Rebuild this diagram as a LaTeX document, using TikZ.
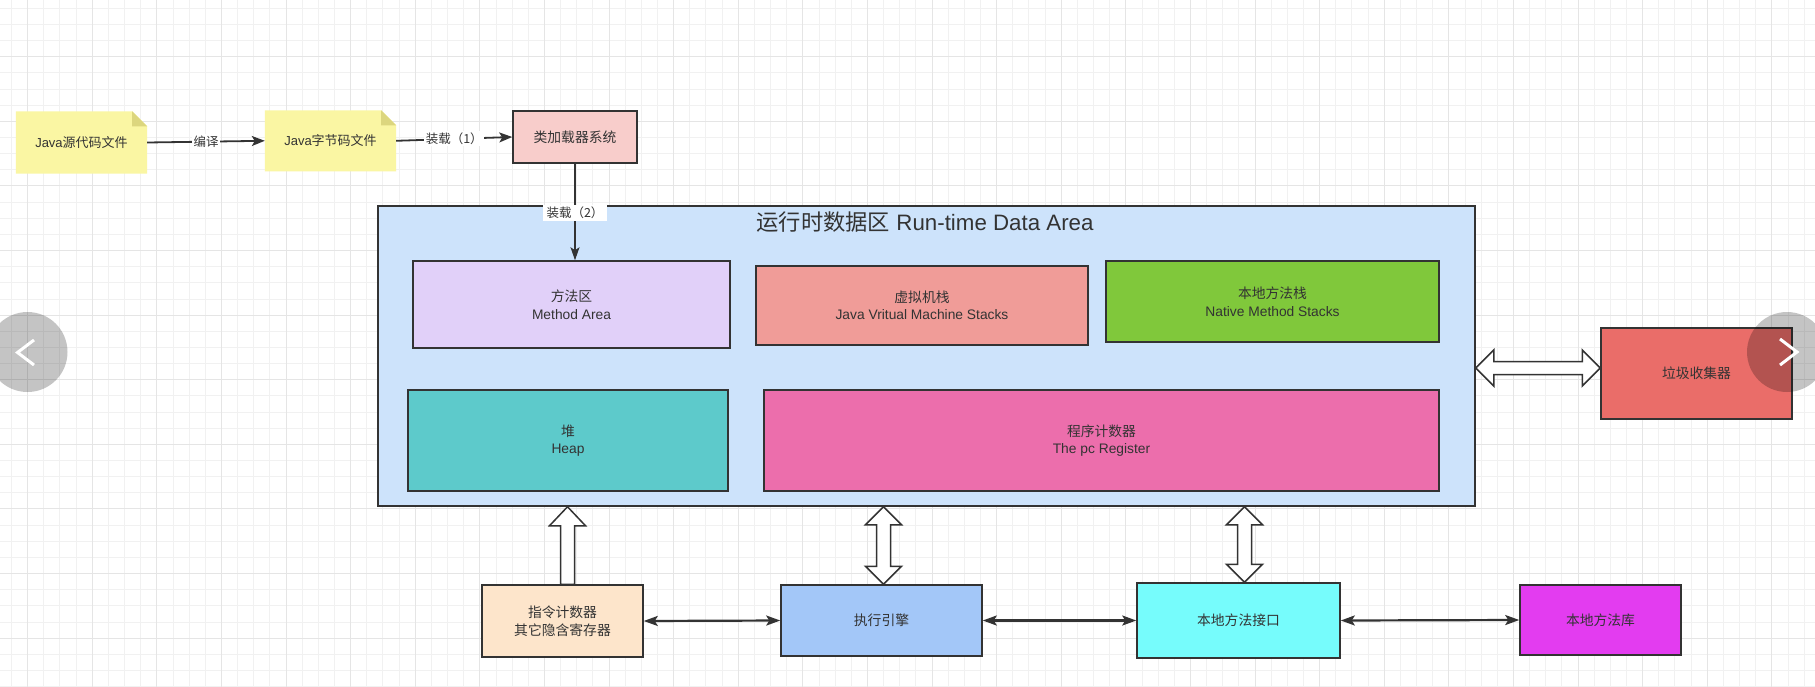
\documentclass[tikz,border=0pt]{standalone}
\usepackage{fontspec}
\setmainfont{Liberation Sans}
\newfontfamily\cjk{Noto Sans CJK SC}
\usetikzlibrary{arrows.meta,calc}
\definecolor{lineC}{HTML}{333333}
\definecolor{textC}{HTML}{333333}
\definecolor{notefill}{HTML}{FAF6A3}
\definecolor{foldfill}{HTML}{DCD67E}
\definecolor{loaderfill}{HTML}{F8CDCB}
\definecolor{rtfill}{HTML}{CDE3FB}
\definecolor{methodfill}{HTML}{E1D0F9}
\definecolor{jvmfill}{HTML}{F09C98}
\definecolor{nativefill}{HTML}{80C83B}
\definecolor{heapfill}{HTML}{5DCACB}
\definecolor{pcfill}{HTML}{EC6EAC}
\definecolor{gcfill}{HTML}{EA6D69}
\definecolor{instrfill}{HTML}{FDE5CB}
\definecolor{execfill}{HTML}{A3C7F8}
\definecolor{nifill}{HTML}{76FCFC}
\definecolor{nlfill}{HTML}{E33CF0}
\definecolor{gridminorC}{HTML}{F1F1F1}
\definecolor{gridmajorC}{HTML}{E5E5E5}
\pgfdeclarelayer{gridlayer}
\pgfdeclarelayer{backlayer}
\pgfsetlayers{gridlayer,backlayer,main}
\begin{document}
\begin{tikzpicture}[x=1pt,y=-1pt,
  boxnode/.style={draw=lineC, line width=1.5pt, text=textC, align=center, inner sep=0pt,
    font=\fontsize{13.8}{17.5}\selectfont},
  notenode/.style={text=textC, align=center, inner sep=0pt, font=\fontsize{13}{15}\selectfont},
  conn/.style={draw=lineC, line width=1.8pt, -{Stealth[length=13pt,width=10pt,inset=3pt]}},
  biconn/.style={draw=lineC, line width=2.2pt, {Stealth[length=14pt,width=10pt,inset=3pt]}-{Stealth[length=14pt,width=10pt,inset=3pt]}},
  thinconn/.style={draw=lineC, line width=1.2pt, -{Stealth[length=13pt,width=9pt,inset=3pt]}},
  lbl/.style={fill=white, text=textC, inner sep=1.5pt, font=\fontsize{12.5}{15}\selectfont},
  hollow/.style={draw=lineC, fill=white, line width=1.5pt, line join=miter},
  gridminor/.style={draw=gridminorC, line width=1pt},
  gridmajor/.style={draw=gridmajorC, line width=1pt}]
\useasboundingbox (0,0) rectangle (1815,686);
\begin{pgfonlayer}{gridlayer}
  \fill[white] (0,0) rectangle (1815,686);
  \begin{scope}[shift={(11.5,8.3)}]
    \draw[gridminor, step=16.15pt] (-40,720) grid (1840,-40);
  \end{scope}
  \begin{scope}[shift={(27.6,56.6)}]
    \draw[gridmajor, step=64.6pt] (-80,720) grid (1840,-80);
  \end{scope}
\end{pgfonlayer}

% top row
\node[notenode, minimum width=131pt, minimum height=62pt] (src) at (81.5,142.5) {Java{\cjk 源代码文件}};
\node[notenode, minimum width=131pt, minimum height=60.5pt] (bc) at (330.5,140.8) {Java{\cjk 字节码文件}};
\node[boxnode, fill=loaderfill, minimum width=124pt, minimum height=52pt] (loader) at (575,137) {\cjk 类加载器系统};

% runtime data area
\node[boxnode, fill=rtfill, minimum width=1097pt, minimum height=300pt] (rt) at (926.5,356) {};
\node[text=textC, inner sep=0pt, font=\fontsize{22.3}{24}\selectfont] (rttitle) at (925,222) {{\cjk 运行时数据区} Run-time Data Area};
\node[boxnode, fill=methodfill, minimum width=317pt, minimum height=87pt] (method) at (571.5,304.5) {{\cjk 方法区}\\Method Area};
\node[boxnode, fill=jvmfill, minimum width=332pt, minimum height=79pt] (jvm) at (922,305.5) {{\cjk 虚拟机栈}\\Java Vritual Machine Stacks};
\node[boxnode, fill=nativefill, minimum width=333pt, minimum height=81pt] (native) at (1272.5,301.5) {{\cjk 本地方法栈}\\Native Method Stacks};
\node[boxnode, fill=heapfill, minimum width=320pt, minimum height=101pt] (heap) at (568,440.5) {{\cjk 堆}\\Heap};
\node[boxnode, fill=pcfill, minimum width=675pt, minimum height=101pt] (pc) at (1101.5,440.5) {{\cjk 程序计数器}\\The pc Register};

% garbage collector
\node[boxnode, fill=gcfill, minimum width=191pt, minimum height=91pt] (gc) at (1696.5,373.5) {\cjk 垃圾收集器};

% bottom row
\node[boxnode, fill=instrfill, minimum width=161pt, minimum height=72pt] (instr) at (562.5,621) {\cjk 指令计数器\\\cjk 其它隐含寄存器};
\node[boxnode, fill=execfill, minimum width=201pt, minimum height=71pt] (exec) at (881.5,620.5) {\cjk 执行引擎};
\node[boxnode, fill=nifill, minimum width=203pt, minimum height=75pt] (ni) at (1238.5,620.5) {\cjk 本地方法接口};
\node[boxnode, fill=nlfill, minimum width=161pt, minimum height=70pt] (nl) at (1600.5,620) {\cjk 本地方法库};

% sticky note shapes
\begin{pgfonlayer}{backlayer}
  \foreach \n in {src,bc}{
    \fill[notefill] (\n.south west) -- (\n.north west) -- ($(\n.north east)+(-15,0)$) -- ($(\n.north east)+(0,15)$) -- (\n.south east) -- cycle;
    \fill[foldfill] ($(\n.north east)+(-15,0)$) -- ($(\n.north east)+(0,15)$) -- ($(\n.north east)+(-15,15)$) -- cycle;
  }
\end{pgfonlayer}

% connectors, top row
\draw[conn] (src.east) -- node[lbl] (l1) {\cjk 编译} (bc.west);
\draw[conn] (bc.east) -- node[lbl] (l2) {\cjk 装载（1）} (loader.west);
\draw[thinconn] (loader.south) -- (loader.south |- method.north);
\node[lbl, inner xsep=4pt, inner ysep=2pt] (l3) at ($(loader.south |- rt.north)+(0,7.5)$) {\cjk 装载（2）};

% hollow arrows
\draw[hollow] let \p1=($(instr.north)+(5,0)$), \p2=(rt.south) in
  (\x1-7pt,\y1) -- (\x1-7pt,\y2-19pt) -- (\x1-18pt,\y2-19pt) -- (\x1,\y2) -- (\x1+18pt,\y2-19pt) -- (\x1+7pt,\y2-19pt) -- (\x1+7pt,\y1) -- cycle;
\draw[hollow] let \p1=($(exec.north)+(2,0)$), \p2=(rt.south) in
  (\x1-7pt,\y1+18pt) -- (\x1-18pt,\y1+18pt) -- (\x1,\y1) -- (\x1+18pt,\y1+18pt) -- (\x1+7pt,\y1+18pt) -- (\x1+7pt,\y2-18pt) -- (\x1+18pt,\y2-18pt) -- (\x1,\y2) -- (\x1-18pt,\y2-18pt) -- (\x1-7pt,\y2-18pt) -- cycle;
\draw[hollow] let \p1=($(ni.north)+(6,0)$), \p2=(rt.south) in
  (\x1-7pt,\y1+18pt) -- (\x1-18pt,\y1+18pt) -- (\x1,\y1) -- (\x1+18pt,\y1+18pt) -- (\x1+7pt,\y1+18pt) -- (\x1+7pt,\y2-18pt) -- (\x1+18pt,\y2-18pt) -- (\x1,\y2) -- (\x1-18pt,\y2-18pt) -- (\x1-7pt,\y2-18pt) -- cycle;
\coordinate (gcin) at ($(gc.west)+(0,-5.5)$);
\draw[hollow] let \p1=(rt.east |- gcin), \p2=(gcin) in
  (\x1,\y1) -- (\x1+18pt,\y1+18pt) -- (\x1+18pt,\y1+6.5pt) -- (\x2-18pt,\y1+6.5pt) -- (\x2-18pt,\y1+18pt) -- (\x2,\y1) -- (\x2-18pt,\y1-18pt) -- (\x2-18pt,\y1-6.5pt) -- (\x1+18pt,\y1-6.5pt) -- (\x1+18pt,\y1-18pt) -- cycle;

% bottom double connectors
\draw[biconn] (instr.east) -- (exec.west);
\draw[biconn] (exec.east) -- (ni.west);
\draw[biconn] (ni.east) -- (nl.west);

% carousel buttons
\fill[black, fill opacity=0.23] (27.5,352) circle (40);
\fill[black, fill opacity=0.23] (1787,352) circle (40);
\draw[white, line width=3pt] (34,340) -- (17.5,352.5) -- (34,365);
\draw[white, line width=3pt] (1780,339) -- (1797,352) -- (1780,365);
\end{tikzpicture}
\end{document}
